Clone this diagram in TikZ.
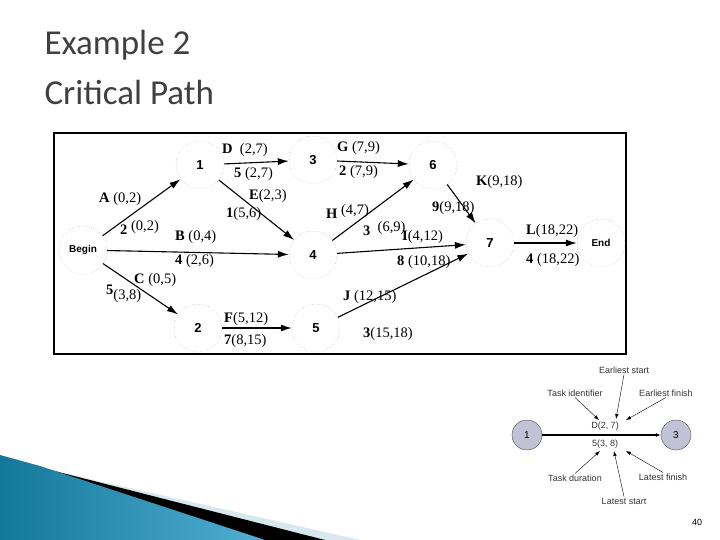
\documentclass[tikz,border=0pt]{standalone}
\usepackage{fontspec}
\setmainfont{Liberation Serif}
\newfontfamily\arial{Liberation Sans}
\newfontfamily\titlef{Carlito}
\usetikzlibrary{arrows.meta}
\definecolor{teal1}{RGB}{20,120,155}
\definecolor{teal2}{RGB}{80,175,210}
\definecolor{pale}{RGB}{215,232,238}
\begin{document}
\begin{tikzpicture}[x=1pt,y=-1pt,
 ev/.style={circle,draw=gray!85,dotted,minimum size=48pt,inner sep=0pt,font=\arial\bfseries\fontsize{13}{13}\selectfont},
 act/.style={-{Latex[length=11pt,width=7pt]},line width=1.1pt},
 lb/.style={font=\fontsize{14.5}{14.5}\selectfont,inner sep=0pt,anchor=west},
 sm/.style={circle,draw=black!70,fill=blue!20!gray!40,minimum size=30pt,inner sep=0pt,font=\arial\fontsize{10}{10}\selectfont},
 note/.style={font=\arial\fontsize{9}{9}\selectfont,inner sep=1pt,text=black!80},
 pt/.style={-{Latex[length=5pt,width=3.5pt]},thin}]
\useasboundingbox (0,0) rectangle (720,540);
\fill[white] (0,0) rectangle (720,540);
% swoosh
\fill[pale] (50,470) -- (360,540) -- (300,540) -- cycle;
\fill[black] (35,466) -- (325,540) -- (262,540) -- cycle;
\shade[left color=teal1,right color=teal2] (0,455) -- (40,466) -- (265,540) -- (0,540) -- cycle;
% title
\node[font=\titlef\fontsize{35}{35}\selectfont,text=black!75,anchor=west] (t1) at (41,45) {Example 2};
\node[font=\titlef\fontsize{35}{35}\selectfont,text=black!75,anchor=west] (t2) at (41,92) {Critical Path};
% frame
\draw[line width=2pt] (54,133) rectangle (626,354);
\node[ev] (B) at (83,250) {\fontsize{10}{10}\selectfont Begin};
\node[ev] (n1) at (200,165) {1};
\node[ev] (n3) at (313,160) {3};
\node[ev] (n6) at (433,165) {6};
\node[ev] (n4) at (313,255) {4};
\node[ev] (n7) at (490,243) {7};
\node[ev] (E) at (601,243) {\fontsize{10}{10}\selectfont End};
\node[ev] (n2) at (198,328) {2};
\node[ev] (n5) at (316,328) {5};
\draw[act] (B) -- (n1);
\draw[act] (B) -- (n4);
\draw[act] (B) -- (n2);
\draw[act] (n1) -- (n3);
\draw[act] (n1) -- (n4);
\draw[act] (n3) -- (n6);
\draw[act] (n4) -- (n6);
\draw[act] (n4) -- (n7);
\draw[act] (n6) -- (n7);
\draw[act] (n2) -- (n5);
\draw[act] (n5) -- (n7);
\draw[act] (n7) -- (E);
% labels
\node[lb] (lD) at (222,150) {\textbf{D} \ (2,7)};
\node[lb] (lD2) at (234,174) {\textbf{5} (2,7)};
\node[lb] (lG) at (337,148) {\textbf{G} (7,9)};
\node[lb] (lG2) at (339,172) {\textbf{2} (7,9)};
\node[lb] (lA) at (99,199) {\textbf{A} (0,2)};
\node[lb] (lA2) at (120,227) {\textbf{2} \raisebox{4pt}{(0,2)}};
\node[lb] (lE) at (249,196) {\textbf{E}(2,3)};
\node[lb] (lE2) at (226,214) {\textbf{1}(5,6)};
\node[lb] (lB) at (175,237) {\textbf{B} (0,4)};
\node[lb] (lB2) at (175,261) {\textbf{4} (2,6)};
\node[lb] (lC) at (134,280) {\textbf{C} (0,5)};
\node[lb] (lC2) at (106,294) {\textbf{5}\raisebox{-5pt}{(3,8)}};
\node[lb] (lH) at (326,211) {\textbf{H} \raisebox{4pt}{(4,7)}};
\node[lb] (lH2) at (363,229) {\textbf{3} \ \raisebox{4pt}{(6,9)}};
\node[lb] (lK) at (476,182) {\textbf{K}(9,18)};
\node[lb] (lK2) at (432,208) {\textbf{9}(9,18)};
\node[lb] (lI) at (402,237) {\textbf{I}(4,12)};
\node[lb] (lI2) at (397,262) {\textbf{8} (10,18)};
\node[lb] (lL) at (526,231) {\textbf{L}(18,22)};
\node[lb] (lL2) at (526,260) {\textbf{4} (18,22)};
\node[lb] (lJ) at (343,297) {\textbf{J} (12,15)};
\node[lb] (lJ2) at (363,334) {\textbf{3}(15,18)};
\node[lb] (lF) at (224,319) {\textbf{F}(5,12)};
\node[lb] (lF2) at (224,341) {\textbf{7}(8,15)};
% inset
\node[sm] (s1) at (527,435) {1};
\node[sm] (s3) at (676,435) {3};
\draw[-{Latex[length=5pt,width=4pt]},line width=1.2pt] (s1) -- (s3);
\node[note] (d1) at (605,426) {D(2, 7)};
\node[note] (d2) at (605,444) {5(3, 8)};
\node[note] (es) at (624,370) {Earliest start};
\node[note] (ti) at (575,393) {Task identifier};
\node[note] (ef) at (666,393) {Earliest finish};
\node[note] (td) at (575,478) {Task duration};
\node[note] (lf) at (663,477) {Latest finish};
\node[note] (ls) at (624,501) {Latest start};
\draw[pt] (es.south) -- (616,419);
\draw[pt] (ti.south) -- (599,420);
\draw[pt] (ef.south) -- (626,420);
\draw[pt] (td.north) -- (600,451);
\draw[pt] (lf.north) -- (626,451);
\draw[pt] (ls.north) -- (614,451);
\node[font=\arial\fontsize{9}{9}\selectfont] (pg) at (697,522) {40};
\end{tikzpicture}
\end{document}
